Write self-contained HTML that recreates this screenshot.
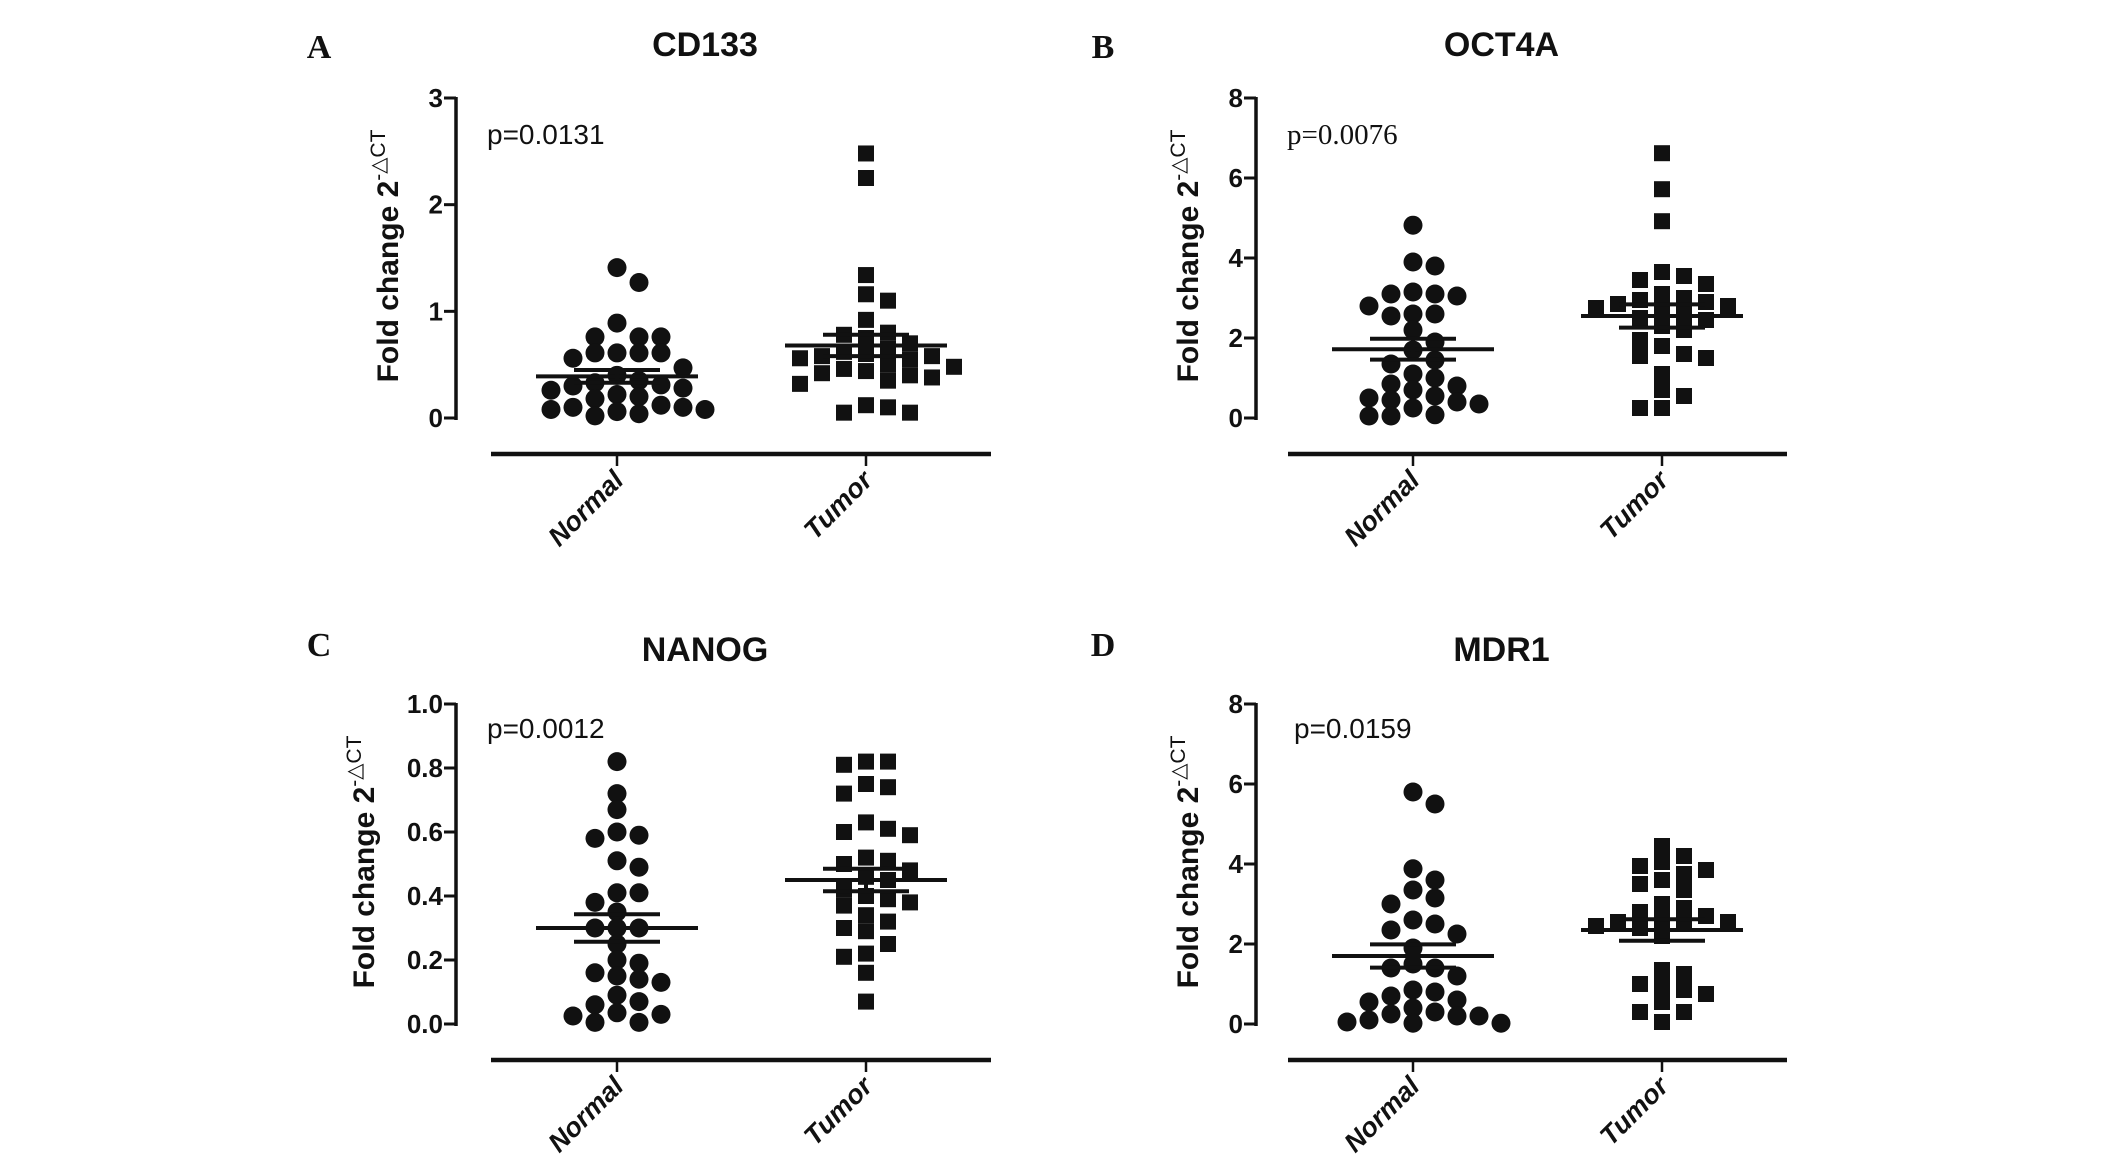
<!DOCTYPE html>
<html><head><meta charset="utf-8"><title>Fold change scatter plots</title>
<style>
html,body{margin:0;padding:0;background:#fff;}
svg{display:block;}
text{font-family:"Liberation Sans",Arial,sans-serif;fill:#111;}
</style></head>
<body>
<svg id="chart" width="2126" height="1158" viewBox="0 0 2126 1158" xmlns="http://www.w3.org/2000/svg"></svg>
<script>
const categories = ["Normal", "Tumor"];
const panelTitles = ["CD133", "OCT4A", "NANOG", "MDR1"];
const panelLetters = ["A", "B", "C", "D"];
const pValues = ["p=0.0131", "p=0.0076", "p=0.0012", "p=0.0159"];
const yTicksA = [0, 1, 2, 3];
const yTicksB = [0, 2, 4, 6, 8];
const yTicksC = [0.0, 0.2, 0.4, 0.6, 0.8, 1.0];
const yTicksD = [0, 2, 4, 6, 8];
const yTickLabelsC = ["0.0", "0.2", "0.4", "0.6", "0.8", "1.0"];

const normalA = [1.41,1.27,0.89,0.76,0.76,0.76,0.61,0.61,0.61,0.61,0.56,0.47,0.40,0.35,0.33,0.31,0.30,0.28,0.26,0.22,0.20,0.18,0.12,0.10,0.10,0.08,0.08,0.06,0.04,0.02];
const tumorA = [2.48,2.25,1.34,1.16,1.10,0.92,0.80,0.78,0.75,0.70,0.65,0.62,0.60,0.58,0.58,0.56,0.55,0.50,0.48,0.46,0.44,0.42,0.40,0.38,0.35,0.32,0.12,0.10,0.05,0.05];
const normalB = [4.82,3.9,3.8,3.15,3.1,3.1,3.05,2.8,2.6,2.6,2.55,2.2,1.9,1.7,1.45,1.35,1.1,1.0,0.85,0.8,0.7,0.55,0.5,0.45,0.4,0.35,0.25,0.08,0.05,0.05];
const tumorB = [6.62,5.72,4.92,3.65,3.55,3.45,3.35,3.1,3.0,2.95,2.9,2.85,2.8,2.75,2.7,2.6,2.5,2.45,2.3,2.2,1.95,1.8,1.6,1.55,1.5,1.1,0.7,0.55,0.25,0.25];
const normalC = [0.82,0.72,0.67,0.60,0.59,0.58,0.51,0.49,0.41,0.41,0.38,0.35,0.30,0.30,0.30,0.25,0.20,0.19,0.16,0.15,0.14,0.13,0.09,0.07,0.06,0.035,0.03,0.025,0.005,0.005];
const tumorC = [0.82,0.82,0.81,0.75,0.74,0.72,0.63,0.61,0.60,0.59,0.52,0.51,0.50,0.48,0.46,0.45,0.42,0.40,0.39,0.38,0.37,0.34,0.32,0.30,0.29,0.25,0.22,0.21,0.16,0.07];
const normalD = [5.8,5.5,3.88,3.6,3.35,3.15,3.0,2.6,2.5,2.35,2.25,1.9,1.5,1.4,1.4,1.2,0.85,0.8,0.7,0.6,0.55,0.4,0.3,0.25,0.2,0.2,0.1,0.05,0.02,0.02];
const tumorD = [4.45,4.2,4.05,3.95,3.85,3.75,3.6,3.5,3.35,3.0,2.9,2.8,2.7,2.6,2.55,2.55,2.5,2.45,2.4,2.2,1.35,1.25,1.0,0.95,0.85,0.75,0.55,0.3,0.3,0.05];

const meansA = [0.39, 0.68], semA = [0.06, 0.10];
const meansB = [1.72, 2.55], semB = [0.26, 0.29];
const meansC = [0.30, 0.45], semC = [0.043, 0.035];
const meansD = [1.70, 2.35], semD = [0.29, 0.27];

const NS = "http://www.w3.org/2000/svg";
const svg = document.getElementById("chart");
function mk(tag, attrs, parent) {
  const e = document.createElementNS(NS, tag);
  for (const k in attrs) e.setAttribute(k, attrs[k]);
  (parent || svg).appendChild(e);
  return e;
}

const layouts = [
  {ax:456, top:98, bot:418, lineY:454, lineX0:491, lineX1:991, cx:[617,866], titleY:56, letterX:319, letterY:58, pX:487, pY:144, ylabX:398, serifP:false},
  {ax:1256, top:98, bot:418, lineY:454, lineX0:1288, lineX1:1787, cx:[1413,1662], titleY:56, letterX:1103, letterY:58, pX:1287, pY:144, ylabX:1198, serifP:true},
  {ax:456, top:704, bot:1024, lineY:1060, lineX0:491, lineX1:991, cx:[617,866], titleY:661, letterX:319, letterY:656, pX:487, pY:738, ylabX:374, serifP:false},
  {ax:1256, top:704, bot:1024, lineY:1060, lineX0:1288, lineX1:1787, cx:[1413,1662], titleY:661, letterX:1103, letterY:656, pX:1294, pY:738, ylabX:1198, serifP:false}
];
const tickSets = [yTicksA, yTicksB, yTicksC, yTicksD];
const seriesSets = [[normalA, tumorA],[normalB, tumorB],[normalC, tumorC],[normalD, tumorD]];
const meanSets = [meansA, meansB, meansC, meansD];
const semSets = [semA, semB, semC, semD];

function drawPanel(i) {
  const L = layouts[i];
  const ticks = tickSets[i];
  const ymin = ticks[0], ymax = ticks[ticks.length-1];
  const yScale = v => L.bot - (v - ymin) / (ymax - ymin) * (L.bot - L.top);
  const g = mk("g", {});
  
  

  const letter = mk("text", {x:L.letterX, y:L.letterY, "text-anchor":"middle", "font-size":34, "font-weight":"bold", style:'font-family:"Liberation Serif",serif'}, g);
  letter.textContent = panelLetters[i];
  
  

  const title = mk("text", {x:(L.lineX0+L.lineX1)/2 - 36, y:L.titleY, "text-anchor":"middle", "font-size":34, "font-weight":"bold"}, g);
  title.textContent = panelTitles[i];
  
  

  const yaxis = mk("line", {x1:L.ax, x2:L.ax, y1:L.top-1, y2:L.bot+2, stroke:"#111", "stroke-width":3.5}, g);
  
  
  ticks.forEach((t, k) => {
    const y = yScale(t);
    const tk = mk("line", {x1:L.ax-12, x2:L.ax, y1:y, y2:y, stroke:"#111", "stroke-width":3}, g);
    
    
    const lb = mk("text", {x:L.ax-13, y:y+9, "text-anchor":"end", "font-size":26, "font-weight":"bold"}, g);
    lb.textContent = (i === 2) ? yTickLabelsC[k] : String(t);
    
    
  });

  const yc = (L.top + L.bot) / 2 - 2;
  const yt = mk("text", {transform:`translate(${L.ylabX},${yc}) rotate(-90)`, "text-anchor":"middle", "font-size":30, "font-weight":"bold"}, g);
  
  
  const t1 = mk("tspan", {}, yt); t1.textContent = "Fold change 2";
  const t2 = mk("tspan", {dy:-13, "font-size":21, "font-weight":"normal"}, yt); t2.textContent = "-△CT";

  const xl = mk("line", {x1:L.lineX0, x2:L.lineX1, y1:L.lineY, y2:L.lineY, stroke:"#111", "stroke-width":4.5}, g);
  
  
  categories.forEach((c, k) => {
    const x = L.cx[k];
    const tk = mk("line", {x1:x, x2:x, y1:L.lineY, y2:L.lineY+12, stroke:"#111", "stroke-width":2.5}, g);
    
    
    const lb = mk("text", {transform:`translate(${x+8},${L.lineY+28}) rotate(-45)`, "text-anchor":"end", "font-size":27, "font-weight":"bold", "font-style":"italic"}, g);
    lb.textContent = c;
    
    
  });

  const p = mk("text", {x:L.pX, y:L.pY, "font-size":L.serifP ? 29 : 28, style: L.serifP ? 'font-family:"Liberation Serif",serif' : ''}, g);
  p.textContent = pValues[i];
  
  

  seriesSets[i].forEach((vals, k) => {
    const cx = L.cx[k];
    const placed = [];
    const sorted = vals.slice().sort((a, b) => b - a);
    const step = 22;
    sorted.forEach(v => {
      const y = yScale(v);
      let off = 0;
      for (let n = 0; n < 40; n++) {
        const cand = n === 0 ? 0 : (n % 2 ? 1 : -1) * Math.ceil(n / 2) * step;
        const hit = placed.some(p => Math.abs(p[0] - cand) < step - 1 && Math.abs(p[1] - y) < 15);
        if (!hit) { off = cand; break; }
      }
      placed.push([off, y]);
      let m;
      if (k === 0) {
        m = mk("circle", {cx:cx + off, cy:y, r:9.5, fill:"#111"}, g);
        
      } else {
        m = mk("rect", {x:cx + off - 8, y:y - 8, width:16, height:16, fill:"#111"}, g);
        
      }
      
    });
    const mean = meanSets[i][k], sem = semSets[i][k];
    const my = yScale(mean), hy = yScale(mean + sem), ly = yScale(mean - sem);
    const ml = mk("line", {x1:cx-81, x2:cx+81, y1:my, y2:my, stroke:"#111", "stroke-width":4}, g);
    
    
    const vl = mk("line", {x1:cx, x2:cx, y1:hy, y2:ly, stroke:"#111", "stroke-width":4}, g);
    
    
    [hy, ly].forEach(yy => {
      const c = mk("line", {x1:cx-43, x2:cx+43, y1:yy, y2:yy, stroke:"#111", "stroke-width":4}, g);
      
      
    });
  });
}
for (let i = 0; i < 4; i++) drawPanel(i);
</script>
</body></html>
